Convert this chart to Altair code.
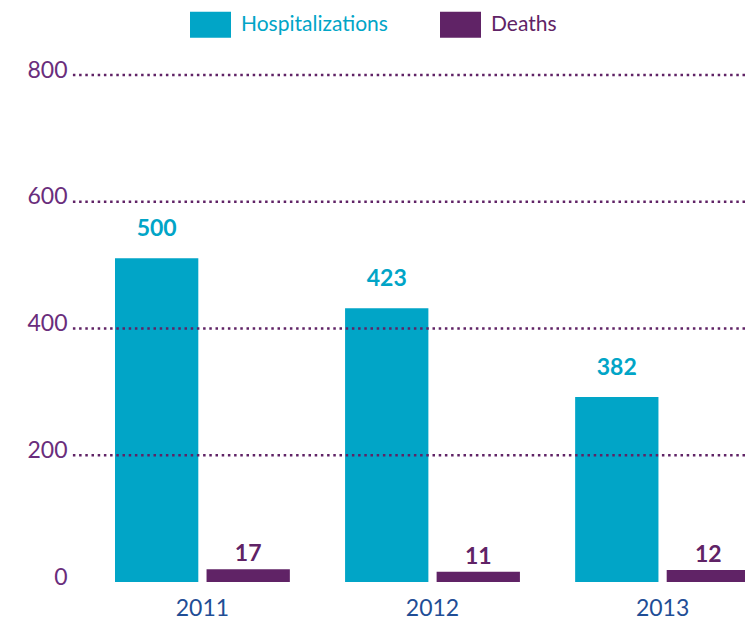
import altair as alt
import pandas as pd

years = ["2011", "2012", "2013"]
series = ["Hospitalizations", "Deaths"]
# bar heights as drawn in the picture
hosp_drawn = [511, 432, 292]
deaths_drawn = [20, 16, 19]
# printed value labels
hosp_labels = ["500", "423", "382"]
deaths_labels = ["17", "11", "12"]
grid_values = [200, 400, 600, 800]
y_ticks = [0, 200, 400, 600, 800]

TEAL = "#01a5c7"
PURPLE = "#602366"
YCOL = "#6a2d7c"
XCOL = "#1f4e96"
FONT = "Lato"

rows = []
for i, yr in enumerate(years):
    rows.append({"year": yr, "series": "Hospitalizations", "value": hosp_drawn[i], "label": hosp_labels[i]})
    rows.append({"year": yr, "series": "Deaths", "value": deaths_drawn[i], "label": deaths_labels[i]})
df = pd.DataFrame(rows)
grid_df = pd.DataFrame({"value": grid_values})

x_enc = alt.X(
    "year:N",
    sort=years,
    scale=alt.Scale(range=[43, 678], paddingInner=0.24, paddingOuter=0),
    axis=alt.Axis(
        title=None, domain=False, ticks=False, labelAngle=0,
        labelFont=FONT, labelFontSize=23, labelColor=XCOL,
        labelBaseline="alphabetic", labelPadding=33,
    ),
)
xo_enc = alt.XOffset("series:N", sort=series, scale=alt.Scale(paddingInner=0.09, paddingOuter=0))
y_axis = alt.Axis(
    title=None, domain=False, ticks=False, grid=False, values=y_ticks,
    labelFont=FONT, labelFontSize=23, labelColor=YCOL,
    labelBaseline="alphabetic", labelPadding=5, labelOffset=2,
)
y_scale = alt.Scale(domain=[0, 800], nice=False)
y_enc = alt.Y("value:Q", scale=y_scale, axis=y_axis)
color_enc = alt.Color(
    "series:N",
    sort=series,
    scale=alt.Scale(domain=series, range=[TEAL, PURPLE]),
    legend=alt.Legend(
        title=None, orient="none", legendX=118, legendY=-71, direction="horizontal",
        symbolType="M-1,-0.634H1V0.634H-1Z", symbolSize=1681, symbolStrokeWidth=0,
        symbolOpacity=1,
        labelFont=FONT, labelFontSize=21, labelOffset=10, columnPadding=52, padding=0,
        labelColor=alt.ExprRef("datum.value == 'Deaths' ? '" + PURPLE + "' : '" + TEAL + "'"),
    ),
)

base = alt.Chart(df)
bars = base.mark_bar(clip=True).encode(x=x_enc, xOffset=xo_enc, y=y_enc, color=color_enc)

hosp_text = base.transform_filter(alt.datum.series == "Hospitalizations").mark_text(
    font=FONT, fontSize=23, fontWeight="bold", color=TEAL, baseline="alphabetic", dy=-22, clip=True
).encode(x=x_enc, xOffset=xo_enc, y=y_enc, text="label:N")

death_text = base.transform_filter(alt.datum.series == "Deaths").mark_text(
    font=FONT, fontSize=23, fontWeight="bold", color=PURPLE, baseline="alphabetic", dy=-8, clip=True
).encode(x=x_enc, xOffset=xo_enc, y=y_enc, text="label:N")

grid = alt.Chart(grid_df).mark_rule(
    color=PURPLE, strokeWidth=2.5, strokeDash=[2.5, 3.7]
).encode(y=alt.Y("value:Q", scale=y_scale, axis=y_axis))

chart = alt.layer(bars, hosp_text, death_text, grid).properties(
    width=673, height=507,
    autosize="none",
    background="white",
    padding={"left": 72, "top": 75, "right": 0, "bottom": 43},
).configure_view(stroke=None)

chart.save("out.html", embed_options={"renderer": "svg", "actions": False})
